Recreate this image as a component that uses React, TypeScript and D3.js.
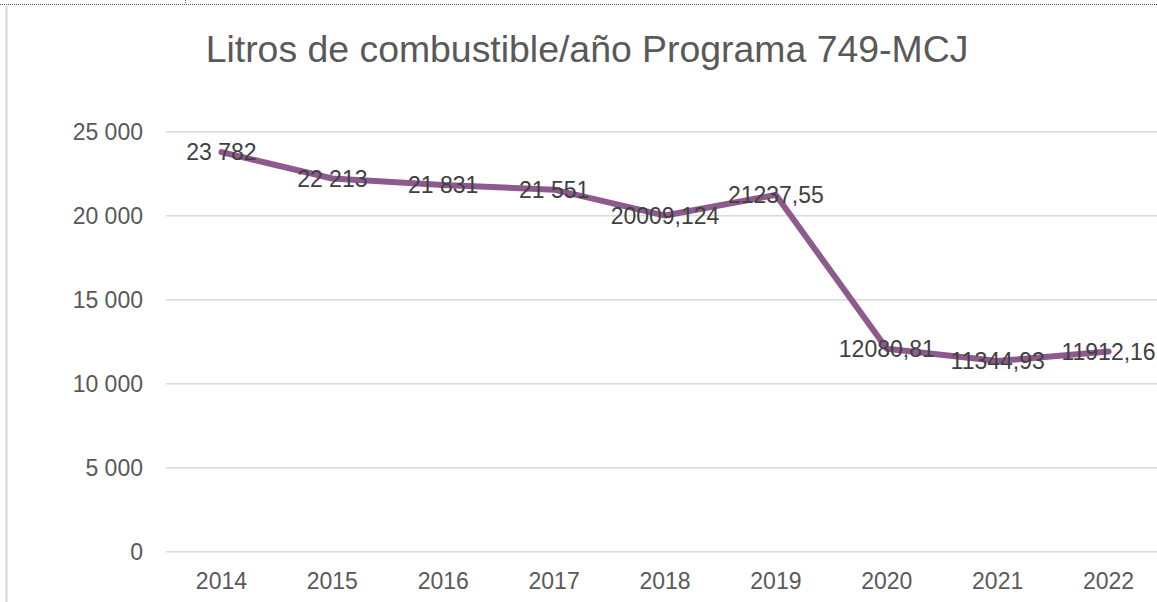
import React from 'react';
import * as d3 from 'd3';

const years = ['2014', '2015', '2016', '2017', '2018', '2019', '2020', '2021', '2022'];
const litros = [23782, 22213, 21831, 21551, 20009.124, 21237.55, 12080.81, 11344.93, 11912.16];
const labels = ['23 782', '22 213', '21 831', '21 551', '20009,124', '21237,55', '12080,81', '11344,93', '11912,16'];
const yTicks = [0, 5000, 10000, 15000, 20000, 25000];
const yTickLabels = ['0', '5 000', '10 000', '15 000', '20 000', '25 000'];

const W = 1157;
const H = 602;
const font = '"Liberation Sans", Arial, sans-serif';

export default function App() {
  const x = d3.scaleBand().domain(years).range([166, 1164]);
  const y = d3.scaleLinear().domain([0, 25000]).range([551.7, 131.7]);
  const cx = (d: string) => (x(d) as number) + x.bandwidth() / 2;

  const line = d3
    .line<number>()
    .x((d, i) => cx(years[i]))
    .y(d => y(d));

  return (
    <svg
      width={W}
      height={H}
      style={{ position: 'absolute', left: 0, top: 0, background: '#fff' }}
    >
      {/* sheet borders */}
      <line x1={0} x2={W} y1={4.5} y2={4.5} stroke="#555" strokeWidth={1} strokeDasharray="1,1" />
      <line x1={185.5} x2={185.5} y1={0} y2={4} stroke="#555" strokeWidth={1} strokeDasharray="1,1" />
      <line x1={6.5} x2={6.5} y1={6} y2={H} stroke="#d9d9d9" strokeWidth={2} />

      <text
        x={587}
        y={62}
        textAnchor="middle"
        fontFamily={font}
        fontSize={37.4}
        fill="#595959"
      >
        Litros de combustible/año Programa 749-MCJ
      </text>

      {yTicks.map((t, i) => (
        <g key={t}>
          <line x1={166} x2={W} y1={y(t)} y2={y(t)} stroke="#d9d9d9" strokeWidth={1.4} />
          <text
            x={143}
            y={y(t)}
            dy="0.36em"
            textAnchor="end"
            fontFamily={font}
            fontSize={23}
            fill="#595959"
          >
            {yTickLabels[i]}
          </text>
        </g>
      ))}

      {years.map(yr => (
        <text
          key={yr}
          x={cx(yr)}
          y={589}
          textAnchor="middle"
          fontFamily={font}
          fontSize={23}
          fill="#595959"
        >
          {yr}
        </text>
      ))}

      <path
        d={line(litros) || ''}
        fill="none"
        stroke="#8d5a8d"
        strokeWidth={6}
        strokeLinejoin="round"
        strokeLinecap="round"
      />

      {litros.map((v, i) => (
        <text
          key={i}
          x={cx(years[i])}
          y={y(v)}
          dy="0.36em"
          textAnchor="middle"
          fontFamily={font}
          fontSize={23}
          fill="#404040"
        >
          {labels[i]}
        </text>
      ))}
    </svg>
  );
}
